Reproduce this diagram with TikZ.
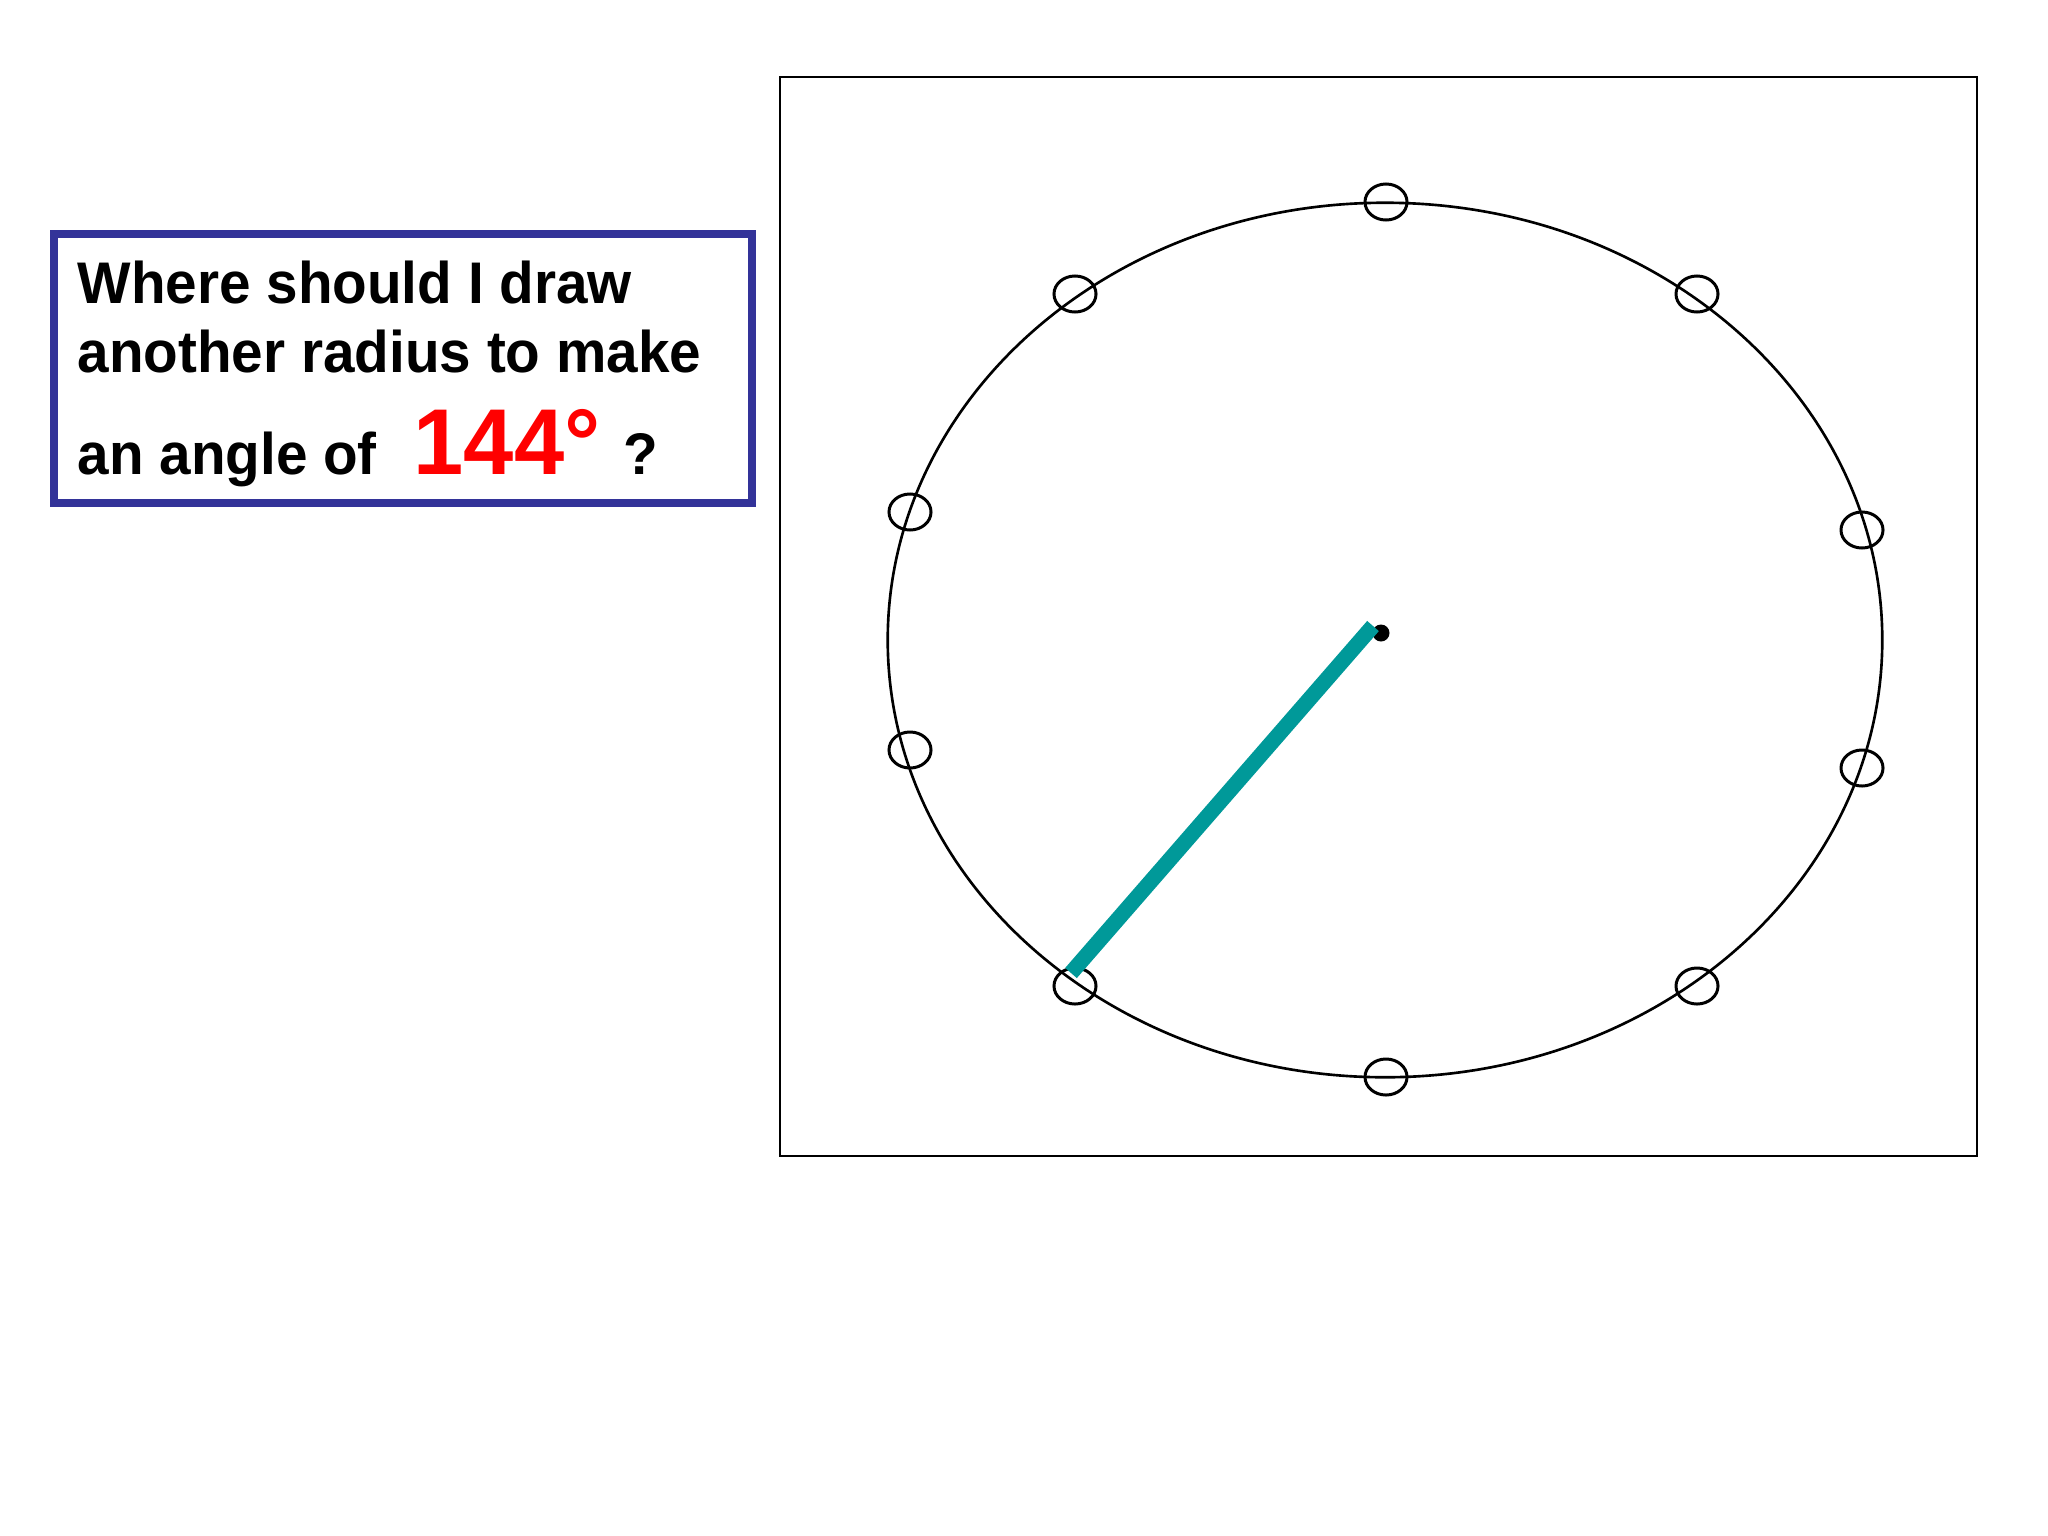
\documentclass[tikz,border=0pt]{standalone}
\usepackage{fontspec}
\setmainfont[FakeStretch=0.965]{Liberation Sans}
\definecolor{boxblue}{HTML}{333399}
\definecolor{radteal}{HTML}{009999}
\begin{document}
\begin{tikzpicture}[x=0.01cm, y=-0.01cm]
\useasboundingbox (0,0) rectangle (2048,1536);
% question box
\draw[boxblue, line width=2pt] (54,234) rectangle (752,503);
\node[anchor=base west, inner sep=0, font=\fontsize{16.7}{20}\selectfont\bfseries] (ask1) at (77,303) {Where should I draw};
\node[anchor=base west, inner sep=0, font=\fontsize{16.7}{20}\selectfont\bfseries] (ask2) at (77,372) {another radius to make};
\node[anchor=base west, inner sep=0, font=\fontsize{16.7}{20}\selectfont\bfseries] (ask3) at (77,474) {an angle of};
\node[anchor=base west, inner sep=0, red, font=\fontsize{26.6}{30}\selectfont\bfseries] (deg) at (413,474) {144°};
\node[anchor=base west, inner sep=0, font=\fontsize{16.7}{20}\selectfont\bfseries] (qm) at (623,474) {?};
% frame and circle
\draw[line width=0.75pt] (780,77) rectangle (1977,1156);
\draw[line width=0.75pt] (1385,640) ellipse (4.97cm and 4.37cm);
\foreach \p in {(1386,202),(1697,294),(1862,530),(1862,768),(1697,986),(1386,1077),(1075,986),(910,750),(910,512),(1075,294)}
  \draw[line width=0.85pt] \p ellipse (0.21cm and 0.18cm);
% radius
\coordinate (centre) at (1373,626);
\coordinate (rim) at (1071,973);
\fill (1381,633) circle (0.085cm);
\draw[radteal, line width=4.4pt] (centre) -- (rim);
\end{tikzpicture}
\end{document}
